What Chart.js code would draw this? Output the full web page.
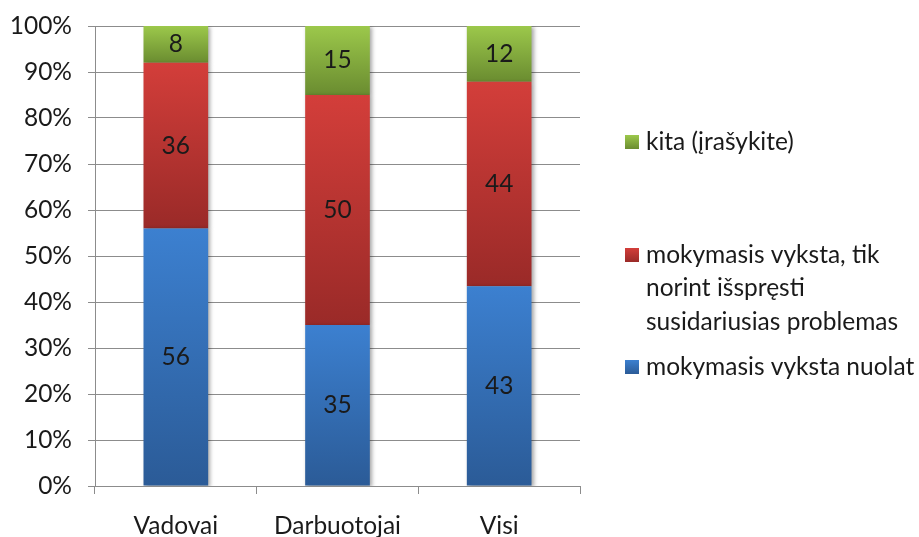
<!DOCTYPE html>
<html>

<head>
    <title>Mokymasis</title>
    <script src="https://cdn.jsdelivr.net/npm/chart.js"></script>
    <style>
        html, body { margin: 0; padding: 0; background: #fff; }
        #wrap { width: 919px; height: 537px; }
    </style>
</head>

<body>
    <div id="wrap"><canvas id="myChart"></canvas></div>

    <script>
        const categories = ['Vadovai', 'Darbuotojai', 'Visi'];
        const nuolat = [56, 35, 43];
        const problemos = [36, 50, 44];
        const kita = [8, 15, 12];
        const yTicks = [0, 10, 20, 30, 40, 50, 60, 70, 80, 90, 100];

        const seriesNames = [
            ['mokymasis vyksta nuolat'],
            ['mokymasis vyksta, tik', 'norint išspręsti', 'susidariusias problemas'],
            ['kita (įrašykite)']
        ];
        const seriesValues = [nuolat, problemos, kita];

        // gradient stops per series: top, bottom
        const colors = [
            ['#3c80d0', '#2b5b97'],
            ['#d33e3a', '#9a2a28'],
            ['#9cc84b', '#6a8c30']
        ];

        const totals = categories.map((c, i) => seriesValues.reduce((s, arr) => s + arr[i], 0));
        const pct = seriesValues.map(arr => arr.map((v, i) => v / totals[i] * 100));

        const font = "Lato, 'Open Sans', sans-serif";
        const fontSize = 24.5;

        function segmentGradient(ctx) {
            const chart = ctx.chart;
            const c = colors[ctx.datasetIndex];
            if (!chart.chartArea || ctx.type !== 'data') return c[0];
            const y = chart.scales.y;
            let start = 0;
            for (let d = 0; d < ctx.datasetIndex; d++) start += pct[d][ctx.dataIndex];
            const end = start + pct[ctx.datasetIndex][ctx.dataIndex];
            const top = y.getPixelForValue(end);
            const bottom = y.getPixelForValue(start);
            const g = chart.ctx.createLinearGradient(0, top, 0, bottom);
            g.addColorStop(0, c[0]);
            g.addColorStop(1, c[1]);
            return g;
        }

        const shadowPlugin = {
            id: 'shadow',
            beforeDatasetsDraw(chart) {
                const ctx = chart.ctx;
                ctx.save();
                ctx.shadowColor = 'rgba(0,0,0,0.35)';
                ctx.shadowBlur = 4;
                ctx.shadowOffsetX = 2;
                ctx.shadowOffsetY = 1;
            },
            afterDatasetsDraw(chart) {
                chart.ctx.restore();
            }
        };

        const labelPlugin = {
            id: 'segLabels',
            afterDatasetsDraw(chart) {
                const ctx = chart.ctx;
                ctx.save();
                ctx.font = fontSize + 'px ' + font;
                ctx.fillStyle = '#1a1a1a';
                ctx.textAlign = 'center';
                ctx.textBaseline = 'middle';
                chart.data.datasets.forEach((ds, di) => {
                    chart.getDatasetMeta(di).data.forEach((bar, i) => {
                        ctx.fillText(String(seriesValues[di][i]), bar.x, (bar.y + bar.base) / 2);
                    });
                });
                ctx.restore();
            }
        };

        const legendPlugin = {
            id: 'sideLegend',
            afterDraw(chart) {
                const ctx = chart.ctx;
                // legend rows, top series first
                const rows = [
                    { s: 2, y: 142 },
                    { s: 1, y: 255 },
                    { s: 0, y: 367 }
                ];
                ctx.save();
                ctx.font = fontSize + 'px ' + font;
                ctx.textBaseline = 'middle';
                ctx.textAlign = 'left';
                rows.forEach(r => {
                    const c = colors[r.s];
                    const g = ctx.createLinearGradient(0, r.y - 7, 0, r.y + 7);
                    g.addColorStop(0, c[0]);
                    g.addColorStop(1, c[1]);
                    ctx.fillStyle = g;
                    ctx.fillRect(625, r.y - 7, 14, 14);
                    ctx.fillStyle = '#1a1a1a';
                    seriesNames[r.s].forEach((line, k) => {
                        ctx.fillText(line, 646, r.y + k * 33.5);
                    });
                });
                ctx.restore();
            }
        };

        const chartData = {
            labels: categories,
            datasets: seriesValues.map((arr, di) => ({
                label: seriesNames[di].join(' '),
                data: pct[di],
                backgroundColor: segmentGradient,
                borderWidth: 0,
                barPercentage: 0.4,
                categoryPercentage: 1
            }))
        };

        const chartOptions = {
            responsive: true,
            maintainAspectRatio: false,
            animation: false,
            layout: {
                padding: { top: 26, right: 339, left: 0, bottom: 0 }
            },
            scales: {
                x: {
                    stacked: true,
                    grid: {
                        drawOnChartArea: false,
                        offset: true,
                        tickLength: 8,
                        color: '#8c8c8c'
                    },
                    border: { color: '#8c8c8c' },
                    ticks: {
                        color: '#1a1a1a',
                        padding: 17,
                        font: { family: font, size: fontSize }
                    },
                    afterFit(axis) {
                        axis.height = 51;
                        axis.paddingLeft = 0;
                        axis.paddingRight = 0;
                    }
                },
                y: {
                    stacked: true,
                    min: 0,
                    max: 100,
                    afterBuildTicks(axis) {
                        axis.ticks = yTicks.map(v => ({ value: v }));
                    },
                    grid: {
                        color: '#8c8c8c',
                        tickLength: 7
                    },
                    border: { color: '#8c8c8c' },
                    ticks: {
                        color: '#1a1a1a',
                        padding: 16,
                        font: { family: font, size: fontSize },
                        callback: v => v + '%'
                    },
                    afterFit(axis) {
                        axis.width = 95;
                        axis.paddingTop = 0;
                        axis.paddingBottom = 0;
                    }
                }
            },
            plugins: {
                legend: { display: false },
                tooltip: { enabled: false }
            }
        };

        new Chart('myChart', {
            type: 'bar',
            data: chartData,
            options: chartOptions,
            plugins: [shadowPlugin, labelPlugin, legendPlugin]
        });
    </script>
</body>

</html>
